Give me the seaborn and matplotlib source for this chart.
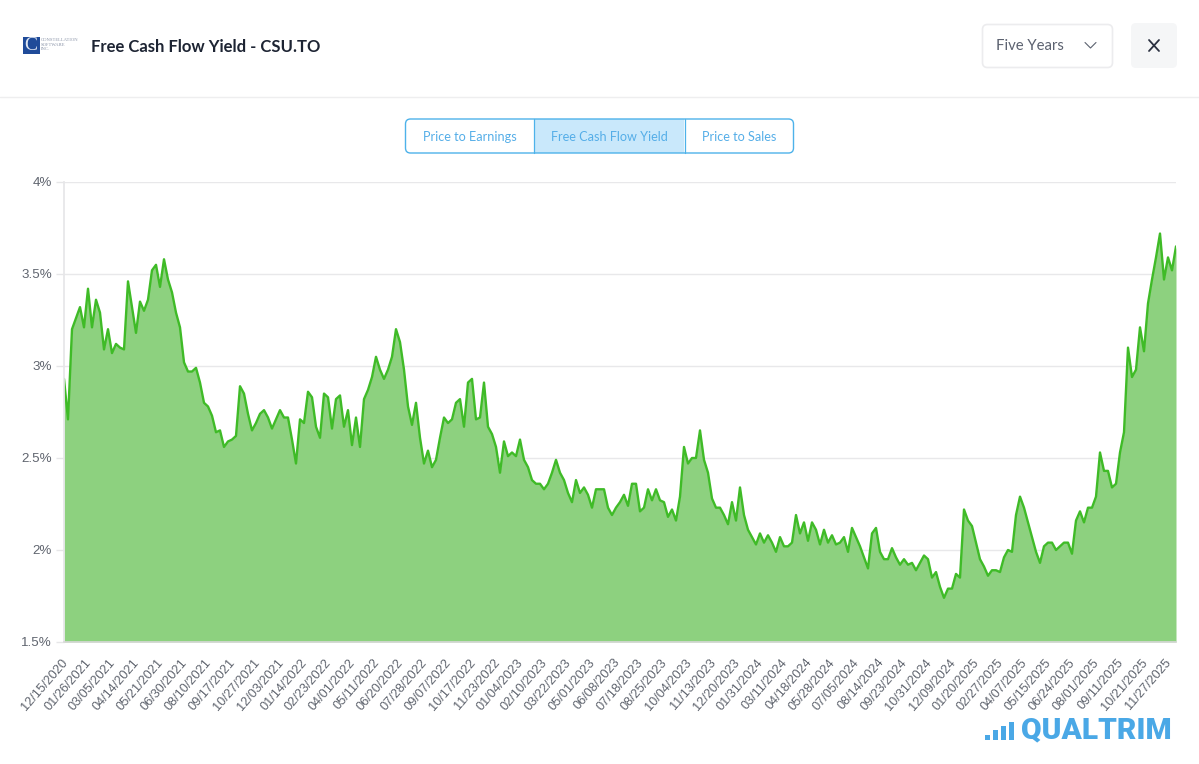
import numpy as np
import pandas as pd
import seaborn as sns
import matplotlib.pyplot as plt
from matplotlib.patches import FancyBboxPatch, Rectangle
from matplotlib.transforms import ScaledTranslation

# Free cash flow yield in %, one reading per step
yield_values = [
    2.93, 2.71, 3.20, 3.26, 3.32, 3.21, 3.42, 3.21, 3.36, 3.29, 3.09, 3.20, 3.07, 3.12, 3.10, 3.09,
    3.46, 3.32, 3.18, 3.35, 3.30, 3.36, 3.52, 3.55, 3.43, 3.58, 3.47, 3.40, 3.29, 3.21, 3.02, 2.97,
    2.97, 2.99, 2.91, 2.80, 2.78, 2.73, 2.64, 2.65, 2.56, 2.59, 2.60, 2.62, 2.89, 2.85, 2.74, 2.65,
    2.69, 2.74, 2.76, 2.72, 2.66, 2.71, 2.76, 2.72, 2.72, 2.60, 2.47, 2.71, 2.69, 2.86, 2.83, 2.67,
    2.61, 2.85, 2.83, 2.66, 2.82, 2.84, 2.67, 2.76, 2.57, 2.72, 2.56, 2.82, 2.87, 2.94, 3.05, 2.98,
    2.93, 2.98, 3.05, 3.20, 3.13, 2.98, 2.78, 2.68, 2.80, 2.61, 2.47, 2.54, 2.45, 2.49, 2.61, 2.72,
    2.69, 2.71, 2.80, 2.82, 2.67, 2.91, 2.93, 2.71, 2.72, 2.91, 2.67, 2.63, 2.56, 2.42, 2.59, 2.51,
    2.53, 2.51, 2.60, 2.49, 2.45, 2.38, 2.36, 2.36, 2.33, 2.36, 2.42, 2.49, 2.42, 2.38, 2.31, 2.26,
    2.38, 2.31, 2.34, 2.30, 2.23, 2.33, 2.33, 2.33, 2.23, 2.19, 2.23, 2.26, 2.30, 2.24, 2.36, 2.36,
    2.21, 2.23, 2.33, 2.27, 2.33, 2.27, 2.26, 2.18, 2.22, 2.16, 2.29, 2.56, 2.47, 2.50, 2.50, 2.65,
    2.49, 2.42, 2.28, 2.23, 2.23, 2.19, 2.14, 2.26, 2.16, 2.34, 2.19, 2.11, 2.07, 2.03, 2.09, 2.04,
    2.08, 2.04, 1.99, 2.07, 2.02, 2.02, 2.04, 2.19, 2.09, 2.15, 2.05, 2.15, 2.11, 2.03, 2.11, 2.04,
    2.08, 2.03, 2.04, 2.07, 1.99, 2.12, 2.07, 2.02, 1.96, 1.90, 2.09, 2.12, 1.99, 1.95, 1.95, 2.01,
    1.96, 1.92, 1.95, 1.92, 1.93, 1.89, 1.93, 1.97, 1.95, 1.85, 1.88, 1.80, 1.74, 1.79, 1.79, 1.87,
    1.85, 2.22, 2.16, 2.13, 2.04, 1.95, 1.91, 1.86, 1.89, 1.89, 1.88, 1.96, 2.00, 1.99, 2.19, 2.29,
    2.23, 2.15, 2.07, 1.99, 1.93, 2.02, 2.04, 2.04, 2.00, 2.02, 2.04, 2.04, 1.98, 2.16, 2.21, 2.15,
    2.23, 2.23, 2.29, 2.53, 2.43, 2.43, 2.34, 2.36, 2.53, 2.64, 3.10, 2.94, 2.98, 3.21, 3.08, 3.34,
    3.47, 3.59, 3.72, 3.47, 3.59, 3.52, 3.65,
]

date_labels = [
    "12/15/2020", "01/26/2021", "03/05/2021", "04/14/2021", "05/21/2021", "06/30/2021", "08/10/2021",
    "09/17/2021", "10/27/2021", "12/03/2021", "01/14/2022", "02/23/2022", "04/01/2022", "05/11/2022",
    "06/20/2022", "07/28/2022", "09/07/2022", "10/17/2022", "11/23/2022", "01/04/2023", "02/10/2023",
    "03/22/2023", "05/01/2023", "06/08/2023", "07/18/2023", "08/25/2023", "10/04/2023", "11/13/2023",
    "12/20/2023", "01/31/2024", "03/11/2024", "04/18/2024", "05/28/2024", "07/05/2024", "08/14/2024",
    "09/23/2024", "10/31/2024", "12/09/2024", "01/20/2025", "02/27/2025", "04/07/2025", "05/15/2025",
    "06/24/2025", "08/01/2025", "09/11/2025", "10/21/2025", "11/27/2025",
]
y_ticks = [1.5, 2, 2.5, 3, 3.5, 4]
y_labels = ["1.5%", "2%", "2.5%", "3%", "3.5%", "4%"]
tabs = ["Price to Earnings", "Free Cash Flow Yield", "Price to Sales"]
logo_bars = [5, 10, 14, 18]

W, H = 1199, 764
df = pd.DataFrame({"step": np.arange(len(yield_values)), "fcf_yield": yield_values})

sns.set_theme(style="white")
plt.rcParams["font.family"] = ["Liberation Sans", "DejaVu Sans"]
fig = plt.figure(figsize=(W / 100, H / 100), dpi=100, facecolor="white")

# Page furniture goes on a full size axes in pixel coordinates
page = fig.add_axes([0, 0, 1, 1], zorder=0)
page.set_xlim(0, W)
page.set_ylim(H, 0)
page.axis("off")

page.plot([0, W], [97, 97], color="#eeeeef", lw=1)
page.add_patch(Rectangle((23, 37), 17, 17, color="#1f4b99", lw=0))
page.text(31, 45, "C", color="#dfe6f2", fontsize=14, ha="center", va="center", family="Liberation Serif")
for i, word in enumerate(["CONSTELLATION", "SOFTWARE", "INC."]):
    page.text(41, 40 + i * 4.5, word, color="#8a94a8", fontsize=3.3, va="center", family="Liberation Serif")
page.text(91, 46.5, "Free Cash Flow Yield - CSU.TO", color="#1d2433", fontsize=12, weight="bold",
          va="center", family="Lato")

page.add_patch(FancyBboxPatch((982.5, 24.5), 130, 43, boxstyle="round,pad=0,rounding_size=5",
                              fc="white", ec="#ececee", lw=1.2))
page.text(996, 46.5, "Five Years", color="#5c6270", fontsize=10.7, va="center", family="Lato")
page.plot([1085, 1090.5, 1096], [42.5, 48, 42.5], color="#5c6270", lw=0.8)
page.add_patch(FancyBboxPatch((1131, 23), 46, 45, boxstyle="round,pad=0,rounding_size=5",
                              fc="#f5f6f7", ec="none"))
page.plot([1149, 1159], [40, 51], color="#2a3040", lw=1.3)
page.plot([1149, 1159], [51, 40], color="#2a3040", lw=1.3)

# Tab buttons
page.add_patch(Rectangle((534, 119), 150, 34, fc="#c9e8fb", ec="none"))
page.add_patch(FancyBboxPatch((405.5, 119), 388, 34, boxstyle="round,pad=0,rounding_size=5",
                              fc="none", ec="#4db2ea", lw=1))
page.plot([534, 534], [119, 153], color="#4db2ea", lw=0.9)
page.plot([684.5, 684.5], [119, 153], color="#4db2ea", lw=0.9)
for label, cx in zip(tabs, [470, 609, 739]):
    page.text(cx, 137, label, color="#55aee8", fontsize=9.05, ha="center", va="center", family="Lato")

# Qualtrim mark
for i, h in enumerate(logo_bars):
    page.add_patch(Rectangle((985 + i * 8, 740 - h), 5, h, color="#4aa8e6", lw=0))
page.text(1021, 730.5, "QUALTRIM", color="#4aa8e6", fontsize=21.5, weight=900, va="center", family="Roboto")

# Chart itself
ax = fig.add_axes([64 / W, 1 - 642 / H, (1176 - 64) / W, (642 - 182) / H], zorder=1)
ax.patch.set_alpha(0)
ax.fill_between(df["step"], df["fcf_yield"], 1.5, color="#8dd17f", lw=0)
sns.lineplot(data=df, x="step", y="fcf_yield", ax=ax, color="#3fbb27", lw=1.7, legend=False)
ax.set_xlim(0, len(yield_values) - 1)
ax.set_ylim(1.5, 4)
ax.set_xlabel("")
ax.set_ylabel("")

ax.set_yticks(y_ticks)
ax.set_yticklabels(y_labels, color="#5f646e", fontsize=9.6)
ax.set_xticks(np.arange(len(date_labels)) * 6)
ax.set_xticklabels(date_labels, rotation=49, ha="right", rotation_mode="anchor", color="#5f646e", fontsize=9.2)
ax.tick_params(axis="y", length=5.8, width=1, color="#e6e6e8", pad=3, left=True)
ax.tick_params(axis="x", length=0, pad=9)
ax.grid(axis="y", color="#e8e8ea", lw=1)
ax.set_axisbelow(True)

# Date labels sit a little left and below the tick
nudge = ScaledTranslation(-3 / 100, -2 / 100, fig.dpi_scale_trans)
for tick_label in ax.get_xticklabels():
    tick_label.set_transform(tick_label.get_transform() + nudge)

for side in ["top", "right"]:
    ax.spines[side].set_visible(False)
ax.spines["left"].set_color("#e6e6e8")
ax.spines["bottom"].set_color("#d8d8d8")
ax.spines["bottom"].set_linewidth(1.2)

fig.savefig("out.png", dpi=100)
